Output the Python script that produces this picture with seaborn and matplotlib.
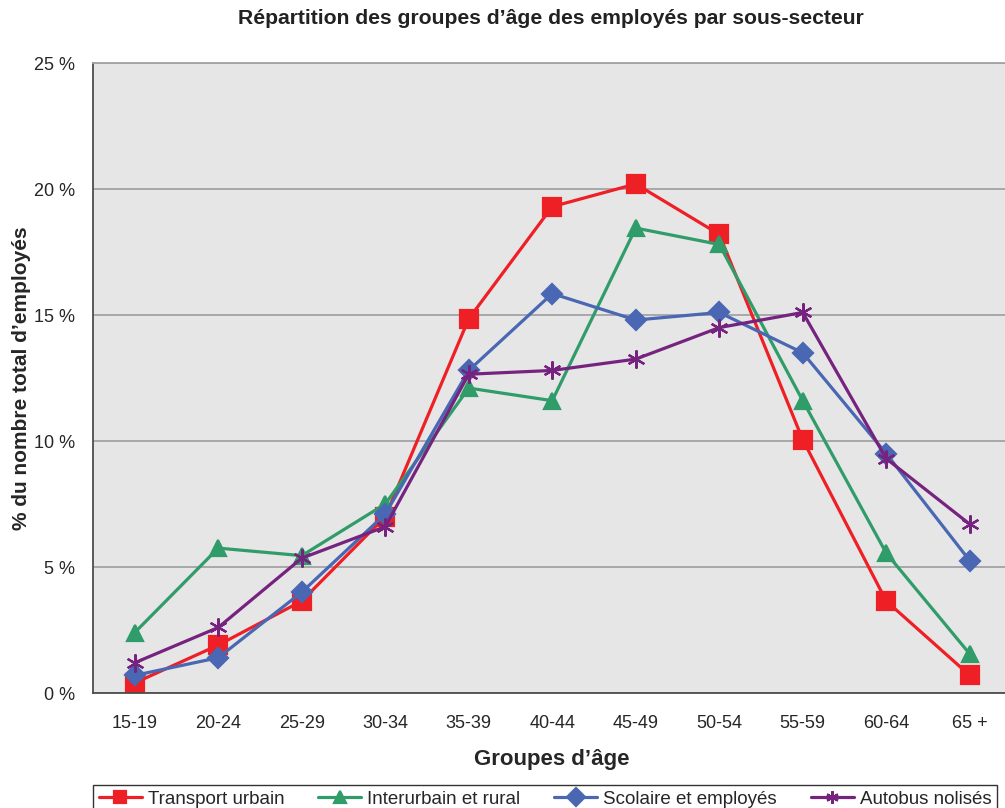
#Age group distribution of employees by sub-sector
import pandas as pd
import matplotlib
matplotlib.use('Agg')
import matplotlib.pyplot as plt
import seaborn as sns

#categories and values (% of employees)
groupes = ['15-19', '20-24', '25-29', '30-34', '35-39', '40-44',
           '45-49', '50-54', '55-59', '60-64', '65 +']
urbain = [0.4, 1.9, 3.65, 7.0, 14.85, 19.3, 20.2, 18.2, 10.05, 3.65, 0.7]
interurbain = [2.4, 5.75, 5.45, 7.5, 12.1, 11.6, 18.45, 17.8, 11.6, 5.55, 1.55]
scolaire = [0.7, 1.4, 4.0, 7.1, 12.8, 15.85, 14.8, 15.1, 13.5, 9.5, 5.25]
nolises = [1.2, 2.6, 5.35, 6.6, 12.65, 12.8, 13.25, 14.5, 15.1, 9.3, 6.7]

series = ['Transport urbain', 'Interurbain et rural', 'Scolaire et employés', 'Autobus nolisés']
couleurs = ['#ee1f25', '#2f9c69', '#4a67b3', '#76237f']
marqueurs = ['s', '^', 'D', (6, 2, 0)]
tailles = [13, 12, 10, 13]

rows = []
for nom, vals in zip(series, [urbain, interurbain, scolaire, nolises]):
    for i, v in enumerate(vals):
        rows.append({'pos': i, 'val': v, 'serie': nom})
df = pd.DataFrame(rows)

sns.set_style('white')
plt.rcParams['font.family'] = ['Liberation Sans', 'DejaVu Sans']

fig = plt.figure(figsize=(10.05, 8.08), dpi=100)
ax = fig.add_axes([93/1005, 115/808, 918.5/1005, 630/808])
ax.set_facecolor('#e6e6e6')

for nom, c, m, s in zip(series, couleurs, marqueurs, tailles):
    sub = df[df['serie'] == nom]
    sns.lineplot(data=sub, x='pos', y='val', ax=ax, color=c, linewidth=2.3,
                 marker=m, markersize=s, markeredgecolor=c, markeredgewidth=1.6,
                 label=nom, legend=False, sort=False)

ax.set_xlim(-0.5, 10.5)
ax.set_ylim(0, 25)
ax.set_yticks([0, 5, 10, 15, 20, 25])
ax.set_yticklabels(['0 %', '5 %', '10 %', '15 %', '20 %', '25 %'], fontsize=13)
ax.yaxis.grid(True, color='#a3a3a3', linewidth=1.3)
ax.set_axisbelow(True)

#ticks between the groups, labels centred
ax.set_xticks([i - 0.5 for i in range(12)])
ax.set_xticklabels([])
ax.set_xticks(range(11), minor=True)
ax.set_xticklabels(groupes, minor=True, fontsize=13)
ax.tick_params(axis='x', which='major', length=6, width=1, color='#333333', direction='out')
ax.tick_params(axis='x', which='minor', length=0, pad=16)
ax.tick_params(axis='y', length=6, width=1, color='#333333', direction='out', pad=7)

for sp in ['left', 'bottom']:
    ax.spines[sp].set_color('#4d4d4d')
    ax.spines[sp].set_linewidth(1.3)
ax.spines['top'].set_color('#a3a3a3')
ax.spines['top'].set_linewidth(1.3)
ax.spines['right'].set_visible(False)

ax.set_xlabel("Groupes d’âge", fontsize=16, fontweight='bold', labelpad=12)
ax.set_ylabel("% du nombre total d’employés", fontsize=15, fontweight='bold', labelpad=2)
fig.text(551/1005, 1 - 18/808, "Répartition des groupes d’âge des employés par sous-secteur",
         fontsize=15.2, fontweight='bold', ha='center', va='center', color='#222222')

handles, labels = ax.get_legend_handles_labels()
leg = fig.legend(handles, labels, loc='upper left', bbox_to_anchor=(93/1005, 1 - 785/808),
                 ncol=4, fontsize=13.5, frameon=True, fancybox=False, handlelength=2.3,
                 columnspacing=1.8, borderpad=0.3, borderaxespad=0, handletextpad=0.32)
leg.get_frame().set_edgecolor('black')
leg.get_frame().set_linewidth(1.0)
for h in leg.legend_handles:
    h.set_markersize(9)

fig.savefig('out.png', dpi=100)
